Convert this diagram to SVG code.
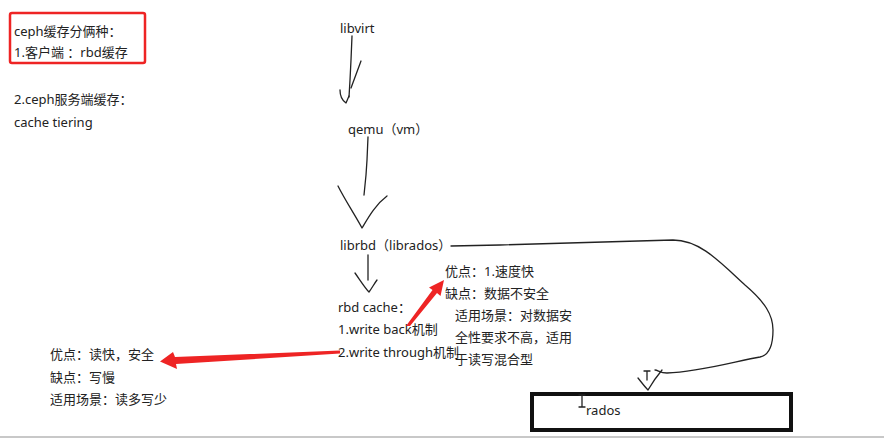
<svg xmlns="http://www.w3.org/2000/svg" width="884" height="440" viewBox="0 0 884 440">
<style>
text{font-family:"Noto Sans","Noto Sans CJK SC",sans-serif;font-size:13px;fill:#222}
.pen{fill:none;stroke:#222;stroke-width:1.3;stroke-linecap:round;stroke-linejoin:round}
.red{fill:#ee2424;stroke:none}
</style>
<rect width="884" height="440" fill="#fff"/>
<rect x="0" y="436" width="884" height="2" fill="#c8c8c8"/>
<g id="summary">
<rect x="10" y="13" width="135" height="50" rx="2" fill="none" stroke="#ee2424" stroke-width="2.5"/>
<text x="14" y="36">ceph缓存分俩种：</text>
<text x="14" y="57">1.客户端 ：rbd缓存</text>
<text x="14" y="104">2.ceph服务端缓存：</text>
<text x="14" y="127">cache tiering</text>
</g>
<g id="libvirt"><text x="340" y="33">libvirt</text></g>
<g id="qemu"><text x="348" y="134">qemu（vm）</text></g>
<g id="librbd"><text x="340" y="250">librbd（librados）</text></g>
<g id="rbdcache">
<text x="338" y="312">rbd cache：</text>
<text x="338" y="334">1.write back机制</text>
<text x="338" y="357">2.write through机制</text>
</g>
<g id="writeback-notes">
<text x="445" y="276">优点：1.速度快</text>
<text x="445" y="298">缺点：数据不安全</text>
<text x="455" y="320">适用场景：对数据安</text>
<text x="455" y="342">全性要求不高，适用</text>
<text x="455" y="364">于读写混合型</text>
</g>
<g id="writethrough-notes">
<text x="50" y="359">优点：读快，安全</text>
<text x="50" y="382">缺点：写慢</text>
<text x="50" y="404">适用场景：读多写少</text>
</g>
<g id="rados">
<rect x="532" y="394" width="259" height="36" fill="none" stroke="#111" stroke-width="4"/>
<text x="586" y="415">rados</text>
<path class="pen" d="M582,395 L582,407 M579,395 L585,395 M579,407 L585,407" stroke-width="1"/>
</g>
<g id="connectors">
<path class="pen" d="M352,36 L351,60 L350,80 L349,97"/>
<path class="pen" d="M340,90 C340,96 343,101 346,103 L349,96 M361,61 L351,88"/>
<path class="pen" d="M368,137 L367,160 L366,175 L364,195"/>
<path class="pen" d="M338,186 C345,200 355,215 362,228 C368,218 375,205 387,196"/>
<path class="pen" d="M368,255 L368,280"/>
<path class="pen" d="M355,273 C360,280 365,288 369,292 C372,288 374,284 377,280"/>
<path class="pen" d="M451,246 L500,245 C560,243 620,241 673,240 C700,240 720,262 745,285 C765,302 773,315 773,330 C773,345 770,355 760,357 C740,360 700,372 667,373 C660,373 658,370 655,370"/>
<path class="pen" d="M638,378 C642,383 645,387 648,390 C652,383 657,376 662,370 M647,371 L647,380 M644,371 L650,371"/>
<path class="red" d="M406,326 L410,326 L437,293 L440.5,296 L444,280 L429,287.5 L432.5,290 Z"/>
<path class="red" d="M340,350.5 L340,353.5 L176,364 L177,369 L160,361.5 L173,352 L175,357 Z"/>
</g>
</svg>
